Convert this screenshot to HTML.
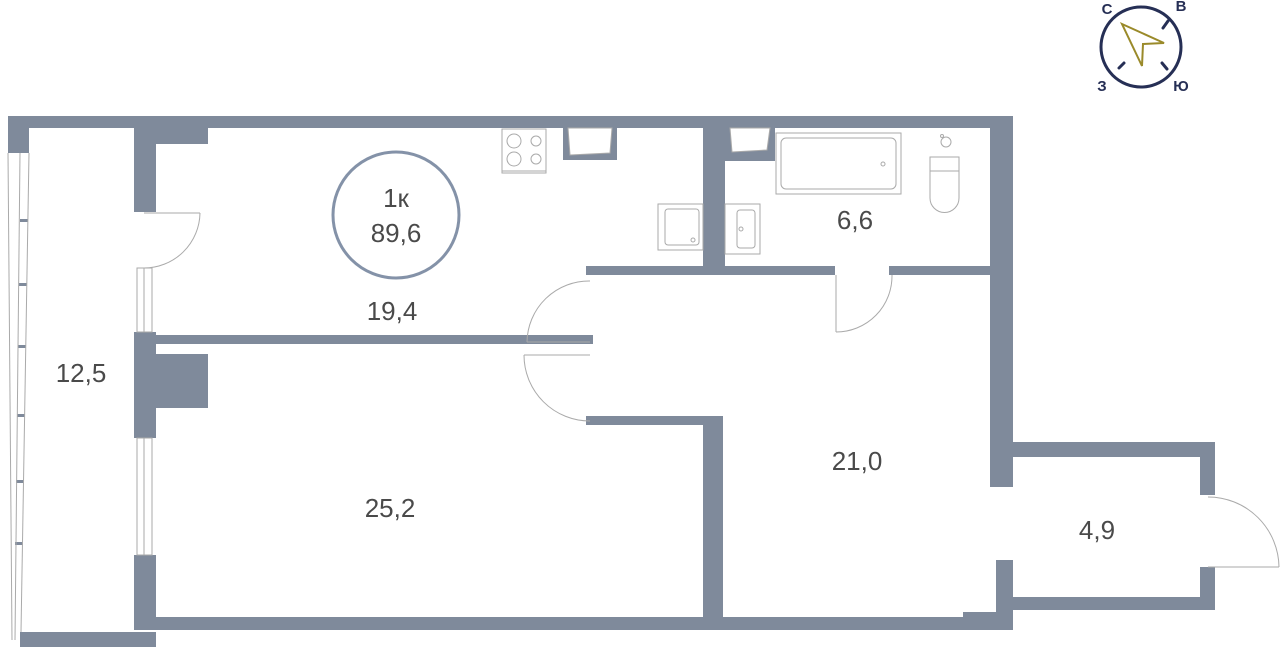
<!DOCTYPE html>
<html><head><meta charset="utf-8"><style>
html,body{margin:0;padding:0;background:#fff;width:1280px;height:647px;overflow:hidden}
svg{display:block}
text{font-family:"Liberation Sans",sans-serif;fill:#4a4a4a}
</style></head><body>
<svg width="1280" height="647" viewBox="0 0 1280 647" xmlns="http://www.w3.org/2000/svg">
<g fill="#7f8a9b">
<rect x="8" y="116" width="1005" height="12"/>
<rect x="8" y="116" width="21" height="37"/>
<rect x="134" y="116" width="22" height="96"/>
<rect x="156" y="127" width="52" height="17"/>
<rect x="134" y="332" width="22" height="106"/>
<rect x="156" y="335" width="437" height="9"/>
<rect x="156" y="354" width="52" height="54"/>
<rect x="134" y="555" width="22" height="75"/>
<rect x="20" y="632" width="136" height="15"/>
<rect x="134" y="617" width="879" height="13"/>
<rect x="963" y="612" width="33" height="6"/>
<rect x="703" y="116" width="22" height="154"/>
<rect x="586" y="266" width="249" height="9"/>
<rect x="889" y="266" width="101" height="9"/>
<rect x="586" y="416" width="137" height="9"/>
<rect x="703" y="416" width="20" height="204"/>
<rect x="990" y="116" width="23" height="371"/>
<rect x="1013" y="442" width="202" height="15"/>
<rect x="1200" y="442" width="15" height="53"/>
<rect x="1200" y="567" width="15" height="43"/>
<rect x="1013" y="597" width="202" height="13"/>
<rect x="996" y="560" width="17" height="70"/>
<rect x="563" y="127" width="54" height="33"/>
<rect x="725" y="127" width="50" height="34"/>
<rect x="20" y="219" width="8" height="3"/>
<rect x="19" y="283" width="8" height="3"/>
<rect x="18" y="345" width="8" height="3"/>
<rect x="17" y="414" width="8" height="3"/>
<rect x="16" y="480" width="8" height="3"/>
<rect x="15" y="542" width="8" height="3"/>
</g>
<g fill="none" stroke="#aaa" stroke-width="1">
<line x1="8" y1="153" x2="12" y2="640"/>
<line x1="20" y1="153" x2="15" y2="640"/>
<line x1="29" y1="153" x2="21" y2="632"/>
<rect x="137" y="268" width="15" height="64"/>
<line x1="144" y1="268" x2="144" y2="332"/>
<rect x="137" y="438" width="15" height="117"/>
<line x1="144" y1="438" x2="144" y2="555"/>
<line x1="144" y1="213" x2="200" y2="213"/>
<path d="M200 213 A56 56 0 0 1 144 268"/>
<path d="M590 281 A62 62 0 0 0 527 342"/>
<line x1="527" y1="342" x2="590" y2="342"/>
<line x1="524" y1="355" x2="590" y2="355"/>
<path d="M524 355 A66 66 0 0 0 590 421"/>
<line x1="836" y1="275" x2="836" y2="332"/>
<path d="M836 332 A56 56 0 0 0 892 275"/>
<line x1="1208" y1="567" x2="1279" y2="567"/>
<path d="M1208 497 A71 71 0 0 1 1279 567"/>
<rect x="502" y="129" width="44" height="44"/>
<line x1="502" y1="171" x2="546" y2="171"/>
<circle cx="514" cy="141" r="7"/><circle cx="536" cy="141" r="5"/>
<circle cx="514" cy="159" r="7"/><circle cx="536" cy="159" r="5"/>
<rect x="776" y="133" width="125" height="61"/>
<rect x="781" y="138" width="115" height="51" rx="5"/>
<circle cx="883" cy="164" r="2"/>
<rect x="930" y="157" width="29" height="14"/>
<path d="M930 171 V198 A14.5 14.5 0 0 0 959 198 V171"/>
<circle cx="946" cy="142" r="5"/><circle cx="942" cy="136" r="1.5"/>
<rect x="658" y="204" width="45" height="46"/>
<rect x="665" y="209" width="34" height="36" rx="3"/>
<circle cx="693" cy="240" r="2"/>
<rect x="725" y="204" width="35" height="50"/>
<rect x="737" y="210" width="18" height="38" rx="3"/>
<circle cx="741" cy="229" r="2"/>
</g>
<g fill="#fff" stroke="#aaa" stroke-width="1">
<path d="M568 128 H612 L610 153 L570 155 Z"/>
<path d="M730 128 H770 L767 150 L732 152 Z"/>
</g>
<circle cx="396" cy="215" r="63" fill="none" stroke="#8492a8" stroke-width="3"/>
<text x="396" y="207" font-size="26" text-anchor="middle">1к</text>
<text x="396" y="242" font-size="26" text-anchor="middle">89,6</text>
<g font-size="26" text-anchor="middle">
<text x="392" y="320">19,4</text>
<text x="81" y="382">12,5</text>
<text x="390" y="517">25,2</text>
<text x="857" y="470">21,0</text>
<text x="855" y="229">6,6</text>
<text x="1097" y="539">4,9</text>
</g>
<!-- compass -->
<circle cx="1141" cy="47" r="40" fill="none" stroke="#262f55" stroke-width="3"/>
<g stroke="#262f55" stroke-width="3" stroke-linecap="round">
<line x1="1163" y1="28" x2="1168" y2="21"/>
<line x1="1162" y1="63" x2="1167" y2="69"/>
<line x1="1119" y1="68" x2="1124" y2="63"/>
</g>
<polygon points="1122,24 1164,43 1143,44 1142,66" fill="none" stroke="#9a8a2a" stroke-width="2"/>
<g font-size="15" font-weight="bold" text-anchor="middle">
<text x="1107" y="14" style="fill:#262f55">С</text>
<text x="1181" y="11" style="fill:#262f55">В</text>
<text x="1102" y="91" style="fill:#262f55">З</text>
<text x="1181" y="91" style="fill:#262f55">Ю</text>
</g>
</svg>
</body></html>
